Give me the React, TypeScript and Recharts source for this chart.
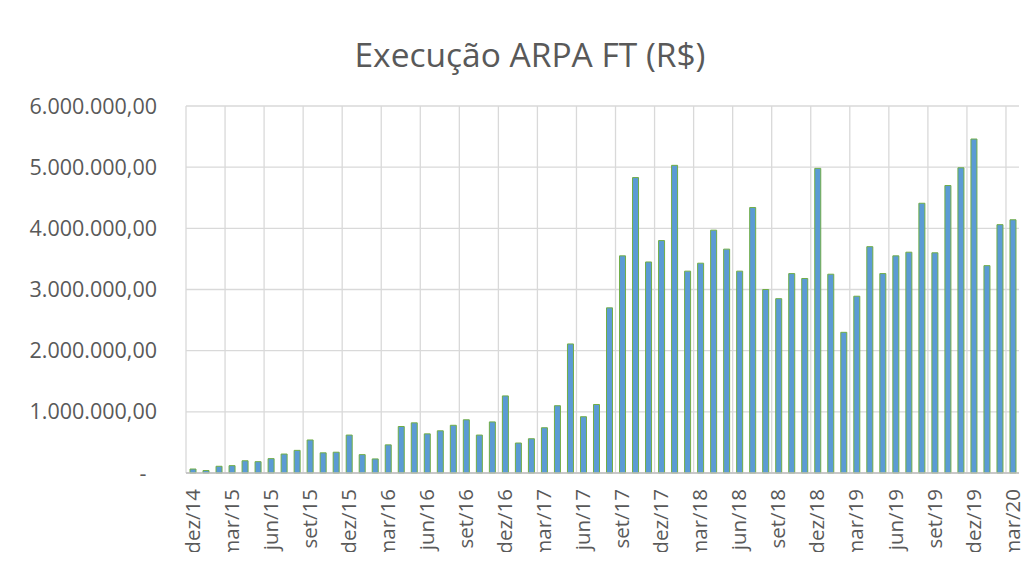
import React from 'react';
import { BarChart, Bar, XAxis, YAxis, CartesianGrid } from 'recharts';

const months: string[] = [
  'dez/14',
  'jan/15', 'fev/15', 'mar/15', 'abr/15', 'mai/15', 'jun/15', 'jul/15', 'ago/15', 'set/15', 'out/15', 'nov/15', 'dez/15',
  'jan/16', 'fev/16', 'mar/16', 'abr/16', 'mai/16', 'jun/16', 'jul/16', 'ago/16', 'set/16', 'out/16', 'nov/16', 'dez/16',
  'jan/17', 'fev/17', 'mar/17', 'abr/17', 'mai/17', 'jun/17', 'jul/17', 'ago/17', 'set/17', 'out/17', 'nov/17', 'dez/17',
  'jan/18', 'fev/18', 'mar/18', 'abr/18', 'mai/18', 'jun/18', 'jul/18', 'ago/18', 'set/18', 'out/18', 'nov/18', 'dez/18',
  'jan/19', 'fev/19', 'mar/19', 'abr/19', 'mai/19', 'jun/19', 'jul/19', 'ago/19', 'set/19', 'out/19', 'nov/19', 'dez/19',
  'jan/20', 'fev/20', 'mar/20',
];

const execucao: number[] = [
  65000,
  40000, 110000, 120000, 200000, 185000, 235000, 310000, 370000, 540000, 330000, 340000, 620000,
  300000, 230000, 460000, 760000, 820000, 640000, 690000, 780000, 870000, 620000, 835000, 1260000,
  490000, 560000, 740000, 1100000, 2110000, 920000, 1120000, 2700000, 3550000, 4830000, 3450000, 3800000,
  5030000, 3300000, 3430000, 3970000, 3660000, 3300000, 4340000, 3000000, 2850000, 3260000, 3180000, 4980000,
  3250000, 2300000, 2890000, 3700000, 3260000, 3550000, 3610000, 4410000, 3600000, 4700000, 4990000, 5460000,
  3390000, 4060000, 4140000,
];

const yTicks: number[] = [0, 1000000, 2000000, 3000000, 4000000, 5000000, 6000000];

const title = 'Execução ARPA FT (R$)';

const data = months.map((m, i) => ({ mes: m, valor: execucao[i] }));

const FONT = '"Open Sans", sans-serif';
const TEXT = '#595959';
const Y_FS = 21.5;
const X_FS = 20.5;
const T_FS = 33.5;

function fmt(v: number): string {
  if (v === 0) return '-';
  const int = Math.floor(v).toString().replace(/\B(?=(\d{3})+(?!\d))/g, '.');
  return int + ',00';
}

const YTick = (props: any) => {
  const { x, y, payload } = props;
  const v = payload.value as number;
  if (v === 0) {
    return (
      <text x={x - 14} y={y} dy="0.35em" textAnchor="middle" fill={TEXT} fontSize={Y_FS} fontFamily={FONT}>
        -
      </text>
    );
  }
  return (
    <text x={x} y={y} dy="0.35em" textAnchor="end" fill={TEXT} fontSize={Y_FS} fontFamily={FONT}>
      {fmt(v)}
    </text>
  );
};

const XTick = (props: any) => {
  const { x, y, payload } = props;
  return (
    <text
      x={x}
      y={y}
      dy="0.35em"
      textAnchor="end"
      transform={`rotate(-90, ${x}, ${y})`}
      fill={TEXT}
      fontSize={X_FS}
      fontFamily={FONT}
    >
      {payload.value}
    </text>
  );
};

const CHART_W = 1020;
const CHART_H = 564;
const MARGIN = { top: 98, right: 9, bottom: 19, left: 28 };
const Y_W = 150;

const vGen = (p: any) => {
  const off = p && p.offset ? p.offset : null;
  const left = off ? off.left : MARGIN.left + Y_W;
  const width = off ? off.width : CHART_W - MARGIN.left - Y_W - MARGIN.right;
  const bw = width / months.length;
  const out: number[] = [];
  for (let i = 0; i < months.length; i += 3) out.push(left + i * bw);
  return out;
};

export default function App() {
  return (
    <div
      style={{
        position: 'relative',
        width: CHART_W,
        height: CHART_H,
        borderTop: '1px solid #d6d6d6',
        borderLeft: '1px solid #d6d6d6',
        marginLeft: -1,
        marginTop: -1,
        marginBottom: -20,
        background: '#fff',
      }}
    >
      <div
        style={{
          position: 'absolute',
          left: 222,
          top: 30,
          width: 600,
          textAlign: 'center',
          fontFamily: FONT,
          fontSize: T_FS,
          lineHeight: `${T_FS}px`,
          color: TEXT,
          whiteSpace: 'nowrap',
        }}
      >
        {title}
      </div>
      <BarChart width={CHART_W} height={CHART_H} data={data} margin={MARGIN} barSize={6}>
        <CartesianGrid stroke="#d9d9d9" strokeWidth={1.3} verticalCoordinatesGenerator={vGen} />
        <XAxis
          dataKey="mes"
          interval={2}
          tickLine={false}
          axisLine={{ stroke: '#bfbfbf', strokeWidth: 1.5 }}
          tick={<XTick />}
          tickMargin={10}
          height={80}
        />
        <YAxis
          domain={[0, 6000000]}
          ticks={yTicks}
          width={Y_W}
          axisLine={false}
          tickLine={false}
          tick={<YTick />}
          tickMargin={23}
        />
        <Bar dataKey="valor" fill="#5B9BD5" stroke="#70AD47" strokeWidth={1} isAnimationActive={false} />
      </BarChart>
    </div>
  );
}
